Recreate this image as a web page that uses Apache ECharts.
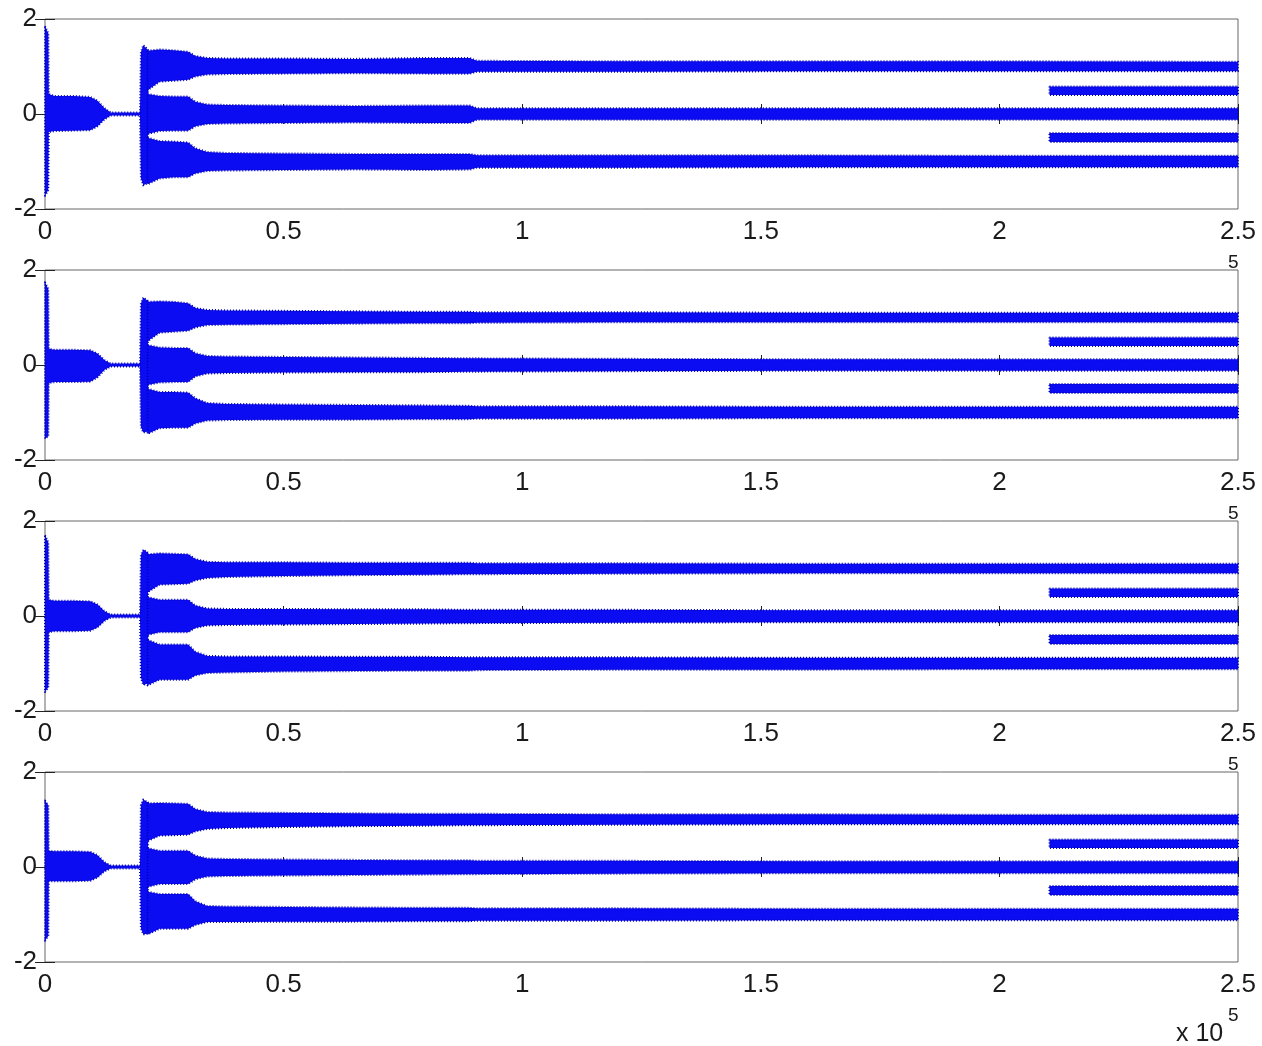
<!DOCTYPE html>
<html>
<head>
<meta charset="utf-8">
<script src="https://cdn.jsdelivr.net/npm/echarts@6/dist/echarts.min.js"></script>
<style>html,body{margin:0;padding:0;background:#fff}#c{width:1262px;height:1046px}</style>
</head>
<body>
<div id="c"></div>
<script>
// ---- axis ticks ----
const xTickValues = [0, 50000, 100000, 150000, 200000, 250000];
const xTickLabels = ['0', '0.5', '1', '1.5', '2', '2.5'];
const yTickValues = [-2, 0, 2];
const yTickLabels = ['-2', '0', '2'];

// ---- shared x positions (samples) of the band envelopes ----
const xHead  = [0, 700, 800, 2000, 6000, 9500, 11000, 12500, 13800, 19900, 20100, 20600, 21600];
const xMain  = [21500, 24000, 27000, 30000, 31500, 34000, 38000, 50000, 65000, 80000, 89000, 90500, 120000, 160000, 200000, 250000];
const xExtra = [210500, 250000];

// ---- subplot 1 envelopes (upper / lower) ----
const s1HeadHi = [1.85, 1.7, 0.42, 0.38, 0.38, 0.36, 0.28, 0.12, 0.03, 0.03, 1.3, 1.45, 1.35];
const s1HeadLo = [-1.72, -1.6, -0.38, -0.36, -0.35, -0.34, -0.26, -0.11, -0.03, -0.03, -1.35, -1.5, -1.45];
const s1TopHi = [1.33, 1.36, 1.34, 1.31, 1.22, 1.18, 1.17, 1.17, 1.16, 1.18, 1.18, 1.12, 1.11, 1.11, 1.11, 1.1];
const s1TopLo = [0.5, 0.68, 0.7, 0.72, 0.79, 0.83, 0.84, 0.85, 0.86, 0.85, 0.85, 0.89, 0.89, 0.9, 0.9, 0.9];
const s1MidHi = [0.42, 0.38, 0.37, 0.37, 0.26, 0.2, 0.19, 0.18, 0.17, 0.18, 0.18, 0.12, 0.12, 0.12, 0.12, 0.12];
const s1MidLo = [-0.42, -0.36, -0.35, -0.35, -0.26, -0.21, -0.2, -0.19, -0.18, -0.19, -0.19, -0.12, -0.12, -0.12, -0.12, -0.12];
const s1BotHi = [-0.5, -0.57, -0.58, -0.6, -0.72, -0.8, -0.82, -0.83, -0.84, -0.84, -0.84, -0.87, -0.87, -0.87, -0.88, -0.88];
const s1BotLo = [-1.48, -1.36, -1.33, -1.33, -1.25, -1.2, -1.19, -1.18, -1.17, -1.18, -1.17, -1.13, -1.13, -1.12, -1.12, -1.12];
const s1UpHi = [0.58, 0.58];
const s1UpLo = [0.4, 0.4];
const s1DnHi = [-0.4, -0.4];
const s1DnLo = [-0.59, -0.59];

// ---- subplot 2 ----
const s2HeadHi = [1.74, 1.6, 0.34, 0.32, 0.32, 0.31, 0.24, 0.1, 0.03, 0.03, 1.3, 1.42, 1.35];
const s2HeadLo = [-1.55, -1.5, -0.38, -0.36, -0.36, -0.35, -0.26, -0.1, -0.03, -0.03, -1.3, -1.42, -1.4];
const s2TopHi = [1.33, 1.34, 1.33, 1.3, 1.2, 1.16, 1.15, 1.14, 1.13, 1.12, 1.12, 1.11, 1.11, 1.1, 1.1, 1.1];
const s2TopLo = [0.5, 0.68, 0.7, 0.72, 0.79, 0.84, 0.85, 0.86, 0.87, 0.88, 0.88, 0.89, 0.9, 0.9, 0.9, 0.9];
const s2MidHi = [0.42, 0.37, 0.36, 0.36, 0.25, 0.19, 0.18, 0.17, 0.16, 0.15, 0.14, 0.14, 0.13, 0.12, 0.12, 0.12];
const s2MidLo = [-0.42, -0.37, -0.36, -0.36, -0.24, -0.18, -0.17, -0.16, -0.15, -0.15, -0.14, -0.14, -0.13, -0.12, -0.12, -0.12];
const s2BotHi = [-0.5, -0.57, -0.57, -0.58, -0.7, -0.8, -0.82, -0.83, -0.84, -0.85, -0.86, -0.87, -0.87, -0.88, -0.88, -0.88];
const s2BotLo = [-1.45, -1.33, -1.32, -1.32, -1.23, -1.17, -1.16, -1.15, -1.15, -1.14, -1.14, -1.13, -1.13, -1.12, -1.12, -1.12];
const s2UpHi = [0.58, 0.58];
const s2UpLo = [0.4, 0.4];
const s2DnHi = [-0.4, -0.4];
const s2DnLo = [-0.59, -0.59];

// ---- subplot 3 ----
const s3HeadHi = [1.7, 1.55, 0.34, 0.32, 0.32, 0.31, 0.24, 0.1, 0.03, 0.03, 1.28, 1.4, 1.33];
const s3HeadLo = [-1.6, -1.5, -0.34, -0.32, -0.32, -0.31, -0.24, -0.1, -0.03, -0.03, -1.3, -1.45, -1.42];
const s3TopHi = [1.3, 1.32, 1.31, 1.3, 1.2, 1.14, 1.13, 1.13, 1.12, 1.12, 1.12, 1.11, 1.11, 1.1, 1.1, 1.1];
const s3TopLo = [0.5, 0.66, 0.67, 0.68, 0.75, 0.8, 0.82, 0.84, 0.86, 0.87, 0.88, 0.88, 0.89, 0.9, 0.9, 0.9];
const s3MidHi = [0.4, 0.34, 0.34, 0.34, 0.22, 0.16, 0.15, 0.15, 0.14, 0.14, 0.13, 0.13, 0.13, 0.12, 0.12, 0.12];
const s3MidLo = [-0.4, -0.34, -0.34, -0.34, -0.25, -0.2, -0.19, -0.18, -0.17, -0.16, -0.15, -0.15, -0.14, -0.13, -0.13, -0.13];
const s3BotHi = [-0.5, -0.6, -0.6, -0.6, -0.75, -0.84, -0.85, -0.85, -0.86, -0.86, -0.87, -0.87, -0.87, -0.88, -0.88, -0.88];
const s3BotLo = [-1.46, -1.34, -1.34, -1.34, -1.25, -1.2, -1.19, -1.17, -1.16, -1.15, -1.15, -1.14, -1.13, -1.13, -1.12, -1.12];
const s3UpHi = [0.58, 0.58];
const s3UpLo = [0.4, 0.4];
const s3DnHi = [-0.4, -0.4];
const s3DnLo = [-0.59, -0.59];

// ---- subplot 4 ----
const s4HeadHi = [1.4, 1.3, 0.34, 0.33, 0.33, 0.32, 0.25, 0.1, 0.03, 0.03, 1.3, 1.42, 1.36];
const s4HeadLo = [-1.55, -1.45, -0.3, -0.3, -0.3, -0.29, -0.22, -0.09, -0.03, -0.03, -1.3, -1.42, -1.4];
const s4TopHi = [1.34, 1.35, 1.34, 1.33, 1.22, 1.16, 1.15, 1.14, 1.13, 1.12, 1.12, 1.12, 1.11, 1.11, 1.1, 1.1];
const s4TopLo = [0.55, 0.66, 0.67, 0.68, 0.75, 0.8, 0.82, 0.84, 0.86, 0.87, 0.88, 0.88, 0.89, 0.9, 0.9, 0.9];
const s4MidHi = [0.4, 0.34, 0.34, 0.34, 0.24, 0.18, 0.17, 0.16, 0.15, 0.14, 0.14, 0.13, 0.13, 0.12, 0.12, 0.12];
const s4MidLo = [-0.42, -0.36, -0.36, -0.36, -0.26, -0.2, -0.19, -0.18, -0.17, -0.16, -0.15, -0.15, -0.14, -0.13, -0.13, -0.13];
const s4BotHi = [-0.52, -0.57, -0.57, -0.57, -0.72, -0.82, -0.83, -0.84, -0.85, -0.86, -0.86, -0.87, -0.87, -0.88, -0.88, -0.88];
const s4BotLo = [-1.42, -1.3, -1.3, -1.3, -1.22, -1.16, -1.16, -1.15, -1.15, -1.14, -1.14, -1.13, -1.13, -1.12, -1.12, -1.12];
const s4UpHi = [0.58, 0.58];
const s4UpLo = [0.4, 0.4];
const s4DnHi = [-0.4, -0.4];
const s4DnLo = [-0.59, -0.59];

// ---- build band lists (library draws them through its own scales) ----
function bandsOf(h, t, m, b, u, d) {
  return [
    { x: xHead, hi: h[0], lo: h[1] },
    { x: xMain, hi: t[0], lo: t[1] },
    { x: xMain, hi: m[0], lo: m[1] },
    { x: xMain, hi: b[0], lo: b[1] },
    { x: xExtra, hi: u[0], lo: u[1] },
    { x: xExtra, hi: d[0], lo: d[1] }
  ];
}
const panels = [
  bandsOf([s1HeadHi, s1HeadLo], [s1TopHi, s1TopLo], [s1MidHi, s1MidLo], [s1BotHi, s1BotLo], [s1UpHi, s1UpLo], [s1DnHi, s1DnLo]),
  bandsOf([s2HeadHi, s2HeadLo], [s2TopHi, s2TopLo], [s2MidHi, s2MidLo], [s2BotHi, s2BotLo], [s2UpHi, s2UpLo], [s2DnHi, s2DnLo]),
  bandsOf([s3HeadHi, s3HeadLo], [s3TopHi, s3TopLo], [s3MidHi, s3MidLo], [s3BotHi, s3BotLo], [s3UpHi, s3UpLo], [s3DnHi, s3DnLo]),
  bandsOf([s4HeadHi, s4HeadLo], [s4TopHi, s4TopLo], [s4MidHi, s4MidLo], [s4BotHi, s4BotLo], [s4UpHi, s4UpLo], [s4DnHi, s4DnLo])
];

const FONT = "'Liberation Sans', Arial, sans-serif";
const GRID_LEFT = 45, GRID_W = 1193, GRID_H = 190, GRID_TOP0 = 19, GRID_STEP = 251;

const grid = [], xAxis = [], yAxis = [], series = [], graphic = [];
panels.forEach((bands, i) => {
  const top = GRID_TOP0 + GRID_STEP * i;
  grid.push({ left: GRID_LEFT, top: top, width: GRID_W, height: GRID_H, show: true,
    borderColor: '#666', borderWidth: 1, backgroundColor: 'transparent' });
  const tick = { show: true, inside: true, length: 10, lineStyle: { color: '#222', width: 1 } };
  xAxis.push({ gridIndex: i, type: 'value', position: 'bottom', min: 0, max: 250000, interval: 50000,
    axisLine: { show: false }, axisTick: tick, splitLine: { show: false },
    axisLabel: { show: true, margin: 10, fontSize: 26, color: '#1a1a1a', fontFamily: FONT,
      showMinLabel: true, showMaxLabel: true,
      formatter: v => xTickLabels[xTickValues.indexOf(v)] } });
  xAxis.push({ gridIndex: i, type: 'value', position: 'top', min: 0, max: 250000, interval: 50000,
    axisLine: { show: false }, axisTick: tick, splitLine: { show: false }, axisLabel: { show: false } });
  yAxis.push({ gridIndex: i, type: 'value', position: 'left', min: -2, max: 2, interval: 2,
    axisLine: { show: false }, axisTick: tick, splitLine: { show: false },
    axisLabel: { show: true, margin: 8, fontSize: 26, color: '#1a1a1a', fontFamily: FONT,
      showMinLabel: true, showMaxLabel: true,
      formatter: v => yTickLabels[yTickValues.indexOf(v)] } });
  yAxis.push({ gridIndex: i, type: 'value', position: 'right', min: -2, max: 2, interval: 2,
    axisLine: { show: false }, axisTick: tick, splitLine: { show: false }, axisLabel: { show: false } });

  series.push({
    type: 'custom', xAxisIndex: 2 * i, yAxisIndex: 2 * i, z: 3, silent: true,
    data: bands.map((b, k) => [b.x[0], 0, k]),
    encode: { x: 0, y: 1 },
    renderItem: (params, api) => {
      const b = bands[params.dataIndex];
      const pts = [];
      for (let j = 0; j < b.x.length; j++) pts.push(api.coord([b.x[j], b.hi[j]]));
      for (let j = b.x.length - 1; j >= 0; j--) pts.push(api.coord([b.x[j], b.lo[j]]));
      return {
        type: 'polygon',
        shape: { points: pts },
        style: { fill: '#0c0cf2', stroke: '#0000c0', lineWidth: 2, lineDash: [1, 2], lineJoin: 'round' }
      };
    }
  });

  // exponent label "x 10^5" (only the superscript peeks out above the next panel)
  const bottom = top + GRID_H;
  if (i === panels.length - 1) {
    graphic.push({ type: 'text', left: 1176, top: bottom + 60,
      style: { text: 'x 10', font: '25px ' + FONT, fill: '#1a1a1a' } });
  }
  graphic.push({ type: 'text', left: 1228, top: bottom + 44,
    style: { text: '5', font: '19px ' + FONT, fill: '#1a1a1a' } });
});

const chart = echarts.init(document.getElementById('c'), null, { renderer: 'canvas' });
chart.setOption({
  animation: false,
  backgroundColor: '#fff',
  grid, xAxis, yAxis, series, graphic
});
</script>
</body>
</html>
